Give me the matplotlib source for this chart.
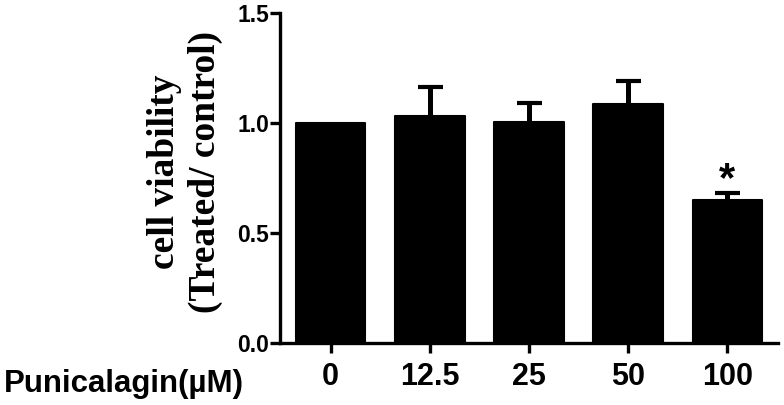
import matplotlib.pyplot as plt
import numpy as np

# Data
doses = ['0', '12.5', '25', '50', '100']
viability = [1.0, 1.03, 1.003, 1.085, 0.651]
err_up = [0.0, 0.132, 0.087, 0.105, 0.03]
signif = ['', '', '', '', '*']

plt.rcParams['font.family'] = ['Liberation Sans', 'DejaVu Sans']

fig = plt.figure(figsize=(7.84, 4.05), dpi=100)
ax = fig.add_axes([280 / 784, 62 / 405, 498 / 784, 330 / 405])

x = np.arange(len(doses))
vals = np.array(viability)
errs = np.array(err_up)

# error bars (upper only) drawn under the bars
m = errs > 0
eb = ax.errorbar(x[m], vals[m], yerr=[np.zeros(m.sum()), errs[m]], fmt='none',
                 ecolor='black', elinewidth=3.6, capsize=9, capthick=3.0, zorder=2)
eb[1][0].set_visible(False)  # lower caps
ax.bar(x, vals, width=0.7, color='black', edgecolor='black',
       linewidth=1.5, joinstyle='round', zorder=3)

for xi, v, e, s in zip(x, vals, errs, signif):
    if s:
        ax.text(xi, v + e + 0.01, s, ha='center', va='baseline',
                fontsize=30, fontweight='bold')

ax.set_xlim(-0.51, 4.51)
ax.set_ylim(0, 1.5)
ax.set_yticks([0.0, 0.5, 1.0, 1.5])
ax.set_yticklabels(['0.0', '0.5', '1.0', '1.5'])
ax.set_xticks(x)
ax.set_xticklabels(doses)

for sp in ['top', 'right']:
    ax.spines[sp].set_visible(False)
for sp in ['left', 'bottom']:
    ax.spines[sp].set_linewidth(2.4)

ax.tick_params(axis='y', width=2.4, length=7, labelsize=16.5, pad=1)
ax.tick_params(axis='x', width=2.4, length=7, labelsize=22, pad=7)
for lab in ax.get_xticklabels() + ax.get_yticklabels():
    lab.set_fontweight('bold')

fig.text(185 / 784, 1 - 172 / 405, 'cell viability\n(Treated/ control)',
         family=['Liberation Serif', 'DejaVu Serif'], fontsize=27, fontweight='bold',
         rotation=90, ha='center', va='center', multialignment='center', linespacing=1.2)

fig.text(4 / 784, 1 - 392 / 405, 'Punicalagin(\u00b5M)', fontsize=22.5,
         fontweight='bold', ha='left', va='baseline')

fig.savefig('out.png', dpi=100)
